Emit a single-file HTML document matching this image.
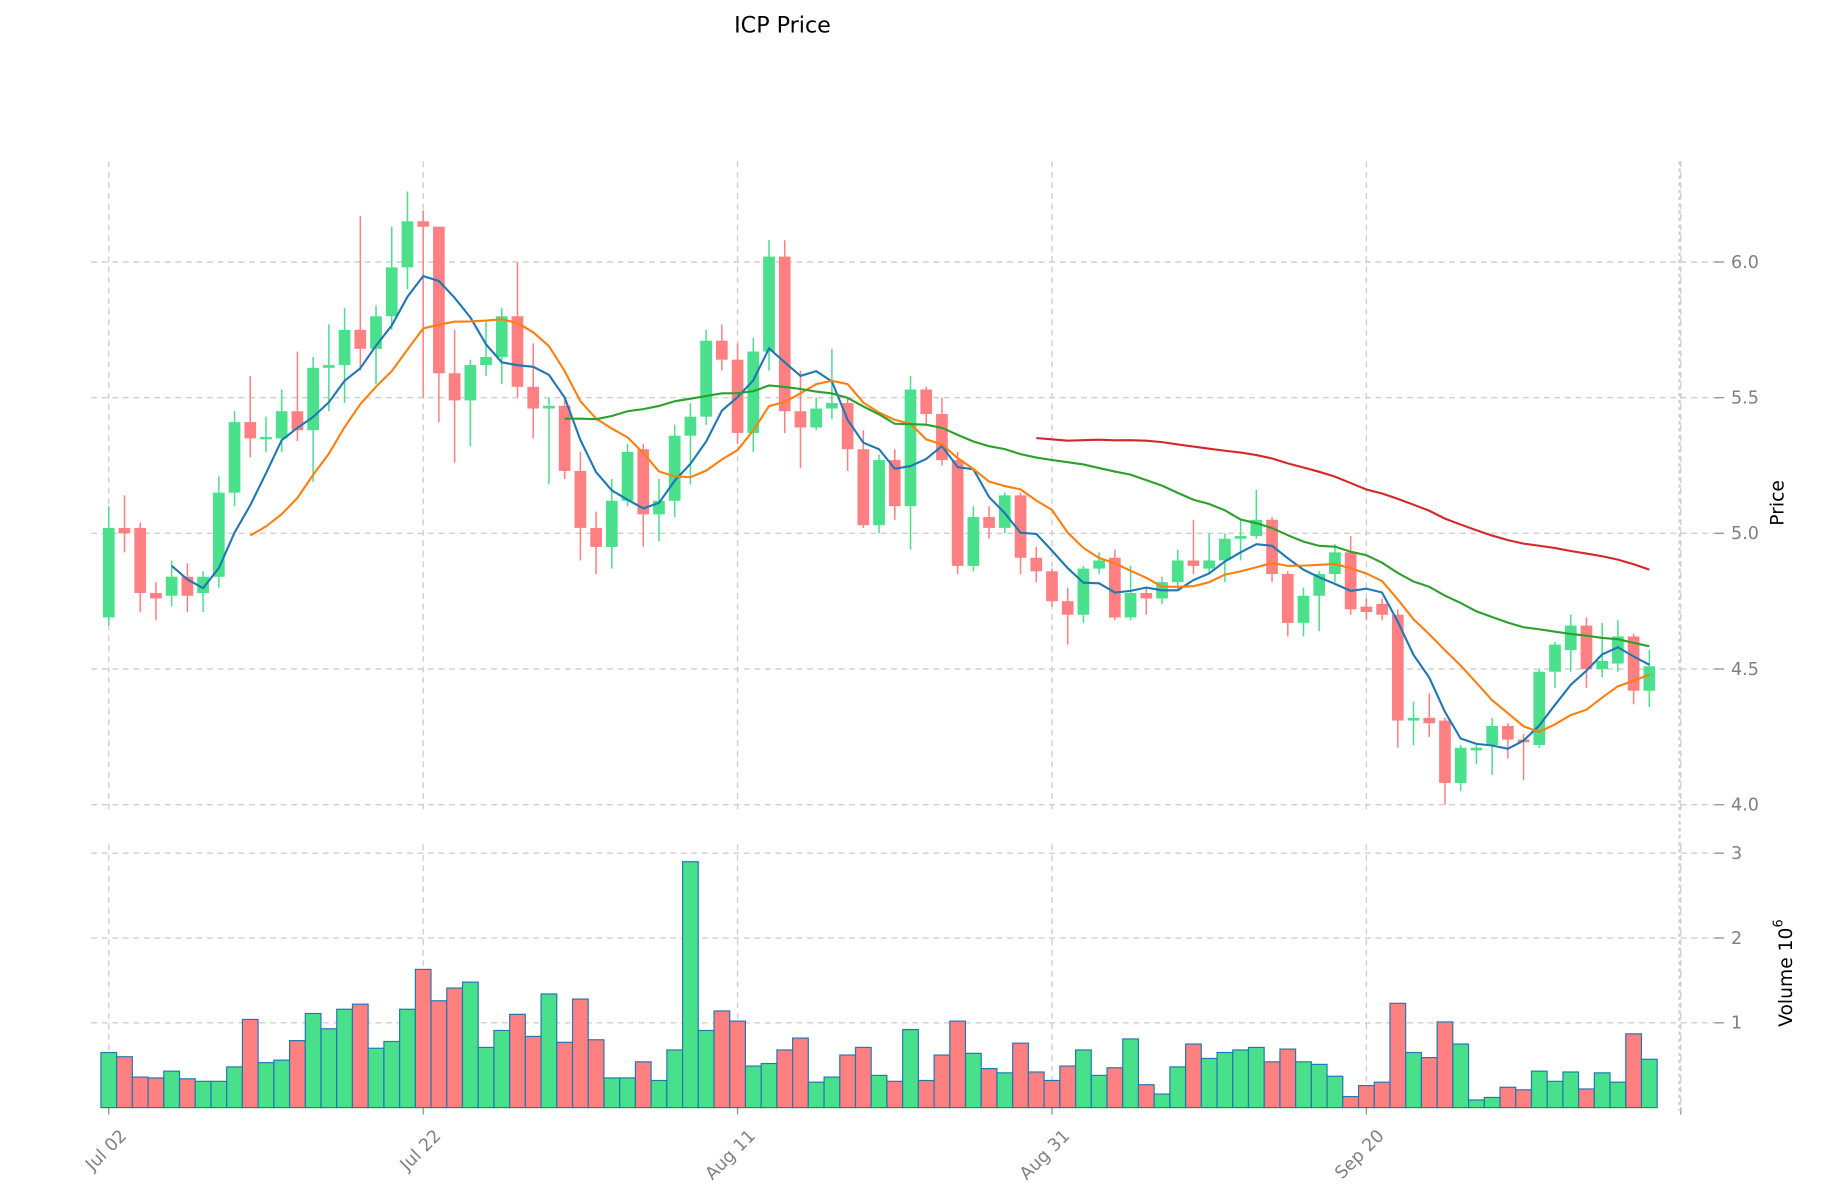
<!DOCTYPE html>
<html><head><meta charset="utf-8"><style>
html,body{margin:0;padding:0;background:#fff;}
svg{display:block;font-family:"DejaVu Sans","Liberation Sans",sans-serif;}
</style></head><body>
<svg id="s" width="1834" height="1202" viewBox="0 0 1568 1027.7" preserveAspectRatio="none" xmlns="http://www.w3.org/2000/svg">
<text x="669" y="28" font-size="19" text-anchor="middle" fill="#000">ICP Price</text>
<g id="g"></g>
<text x="1525" y="430" font-size="16" text-anchor="middle" transform="rotate(-90 1525 430)">Price</text>
<text x="1532" y="832" font-size="16" text-anchor="middle" transform="rotate(-90 1532 832)">Volume  10<tspan dy="-8" font-size="11">6</tspan></text>
</svg>
<script>
var C=[[4.69,5.02,5.1,4.66],[5.02,5.0,5.14,4.93],[5.02,4.78,5.04,4.71],[4.78,4.76,4.82,4.68],[4.77,4.84,4.9,4.73],[4.84,4.77,4.89,4.71],[4.78,4.84,4.86,4.71],[4.84,5.15,5.21,4.8],[5.15,5.41,5.45,5.1],[5.41,5.35,5.58,5.28],[5.35,5.355,5.43,5.3],[5.35,5.45,5.53,5.3],[5.45,5.38,5.67,5.34],[5.38,5.61,5.65,5.19],[5.61,5.62,5.77,5.45],[5.62,5.75,5.83,5.48],[5.75,5.68,6.17,5.6],[5.68,5.8,5.84,5.55],[5.8,5.98,6.13,5.75],[5.98,6.15,6.26,5.9],[6.15,6.13,6.19,5.5],[6.13,5.59,6.12,5.41],[5.59,5.49,5.75,5.26],[5.49,5.62,5.64,5.32],[5.62,5.65,5.78,5.58],[5.65,5.8,5.83,5.55],[5.8,5.54,6.0,5.5],[5.54,5.46,5.7,5.35],[5.46,5.47,5.5,5.18],[5.47,5.23,5.5,5.2],[5.23,5.02,5.3,4.9],[5.02,4.95,5.08,4.85],[4.95,5.12,5.2,4.87],[5.12,5.3,5.33,5.1],[5.31,5.07,5.33,4.95],[5.07,5.12,5.2,4.97],[5.12,5.36,5.4,5.06],[5.36,5.43,5.48,5.18],[5.43,5.71,5.75,5.4],[5.71,5.64,5.77,5.6],[5.64,5.37,5.7,5.33],[5.37,5.67,5.72,5.3],[5.67,6.02,6.08,5.6],[6.02,5.45,6.08,5.37],[5.45,5.39,5.6,5.24],[5.39,5.46,5.5,5.38],[5.46,5.48,5.68,5.42],[5.48,5.31,5.5,5.23],[5.31,5.03,5.38,5.02],[5.03,5.27,5.29,5.0],[5.27,5.1,5.31,5.05],[5.1,5.53,5.58,4.94],[5.53,5.44,5.54,5.4],[5.44,5.27,5.5,5.25],[5.27,4.88,5.3,4.85],[4.88,5.06,5.1,4.86],[5.06,5.02,5.1,4.98],[5.02,5.14,5.15,5.0],[5.14,4.91,5.15,4.85],[4.91,4.86,4.95,4.82],[4.86,4.75,4.87,4.73],[4.75,4.7,4.8,4.59],[4.7,4.87,4.88,4.67],[4.87,4.9,4.93,4.85],[4.91,4.69,4.94,4.68],[4.69,4.78,4.88,4.68],[4.78,4.76,4.8,4.7],[4.76,4.82,4.84,4.74],[4.82,4.9,4.94,4.79],[4.9,4.88,5.05,4.85],[4.87,4.9,5.0,4.85],[4.9,4.98,5.0,4.82],[4.98,4.99,5.05,4.9],[4.99,5.05,5.16,4.98],[5.05,4.85,5.06,4.82],[4.85,4.67,4.86,4.62],[4.67,4.77,4.8,4.62],[4.77,4.85,4.86,4.64],[4.85,4.93,4.96,4.82],[4.93,4.72,4.99,4.7],[4.73,4.71,4.76,4.68],[4.74,4.7,4.76,4.68],[4.7,4.31,4.72,4.21],[4.31,4.32,4.38,4.22],[4.32,4.3,4.41,4.25],[4.31,4.08,4.32,4.0],[4.08,4.21,4.22,4.05],[4.2,4.21,4.22,4.15],[4.22,4.29,4.32,4.11],[4.29,4.24,4.3,4.17],[4.24,4.23,4.26,4.09],[4.22,4.49,4.5,4.21],[4.49,4.59,4.6,4.43],[4.57,4.66,4.7,4.49],[4.66,4.5,4.69,4.43],[4.5,4.53,4.67,4.47],[4.52,4.62,4.68,4.49],[4.62,4.42,4.63,4.37],[4.42,4.51,4.57,4.36]];
var V=[0.65,0.6,0.36,0.35,0.43,0.34,0.31,0.31,0.48,1.04,0.53,0.56,0.79,1.11,0.93,1.16,1.22,0.7,0.78,1.16,1.63,1.26,1.41,1.48,0.71,0.91,1.1,0.84,1.34,0.77,1.28,0.8,0.35,0.35,0.54,0.32,0.68,2.9,0.91,1.14,1.02,0.49,0.52,0.68,0.82,0.3,0.36,0.62,0.71,0.38,0.31,0.92,0.32,0.62,1.02,0.64,0.46,0.41,0.76,0.42,0.32,0.49,0.68,0.38,0.47,0.81,0.27,0.16,0.48,0.75,0.58,0.65,0.68,0.71,0.54,0.69,0.54,0.51,0.37,0.13,0.26,0.3,1.23,0.65,0.59,1.01,0.75,0.09,0.12,0.24,0.21,0.43,0.31,0.42,0.22,0.41,0.3,0.87,0.57];
var X=i=>93+13.44*i, PY=p=>688-(p-4)*232, VY=v=>947-v*72.5;
var h='';
function L(x1,y1,x2,y2,st,w,d){return '<line x1="'+x1+'" y1="'+y1+'" x2="'+x2+'" y2="'+y2+'" stroke="'+st+'" stroke-width="'+w+'"'+(d?' stroke-dasharray="'+d+'"':'')+'/>';}
[4,4.5,5,5.5,6].forEach(p=>{var y=PY(p);h+=L(78,y,1470,y,'#cfcfcf',1.2,'5,4')+L(1466,y,1474,y,'#999',1.2)+'<text x="1480" y="'+(y+5)+'" font-size="15" fill="#808080">'+p.toFixed(1)+'</text>';});
[1,2,3].forEach(v=>{var y=VY(v);h+=L(78,y,1470,y,'#cfcfcf',1.2,'5,4')+L(1466,y,1474,y,'#999',1.2)+'<text x="1480" y="'+(y+5)+'" font-size="15" fill="#808080">'+v+'</text>';});
var lab=['Jul 02','Jul 22','Aug 11','Aug 31','Sep 20'];
for(var k=0;k<6;k++){var x=X(20*k);h+=L(x,138,x,695,'#cfcfcf',1.2,'5,4')+L(x,722,x,947,'#cfcfcf',1.2,'5,4')+L(x,947,x,953,'#999',1.2);
 if(k<5){var ax=x+16,ay=972;h+='<text x="'+ax+'" y="'+ay+'" font-size="15" fill="#808080" text-anchor="end" transform="rotate(-45 '+ax+' '+ay+')">'+lab[k]+'</text>';}}
h+=L(1436,138,1436,950,'#cfcfcf',2,'3,3');
V.forEach((v,i)=>{var g=C[i][1]>=C[i][0];var x=X(i)-6.7;h+='<rect x="'+x+'" y="'+VY(v)+'" width="13.4" height="'+(v*72.5)+'" fill="'+(g?'#48e08a':'#ff8080')+'" stroke="#1f77b4" stroke-width="1"/>';});
C.forEach((c,i)=>{var g=c[1]>=c[0];var col=g?'#4be08c':'#ff8082';var x=X(i);h+=L(x,PY(c[2]),x,PY(c[3]),col,1.3);var t=PY(Math.max(c[0],c[1])),b=PY(Math.min(c[0],c[1]));h+='<rect x="'+(x-5)+'" y="'+t+'" width="10" height="'+Math.max(b-t,2)+'" fill="'+col+'"/>';});
function ma(n,col){var pts=[];for(var i=n-1;i<C.length;i++){var s=0;for(var j=i-n+1;j<=i;j++)s+=C[j][1];pts.push(X(i).toFixed(1)+','+PY(s/n).toFixed(1));}h+='<polyline points="'+pts.join(' ')+'" fill="none" stroke="'+col+'" stroke-width="1.8"/>';}
ma(5,'#1f77b4');ma(10,'#ff7f0e');ma(30,'#2ca02c');ma(60,'#d62728');
document.getElementById('g').innerHTML=h;
</script>
</body></html>
